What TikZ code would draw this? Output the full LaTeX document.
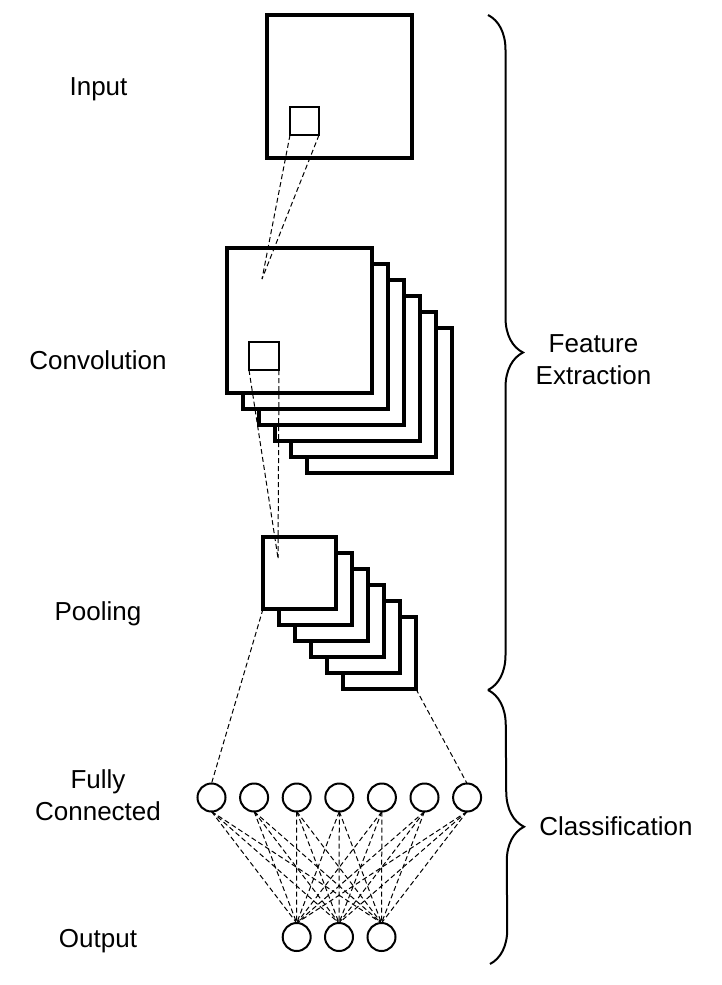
\documentclass[tikz,border=0pt]{standalone}
\usepackage{fontspec}
\setmainfont{Liberation Sans}
\usetikzlibrary{decorations.pathreplacing}
\begin{document}
\begin{tikzpicture}[x=1pt,y=-1pt,
  bigsq/.style={draw, line width=3.2pt, fill=white, rectangle, inner sep=0pt, outer sep=0pt},
  smallsq/.style={draw, line width=1.8pt, rectangle, inner sep=0pt, outer sep=0pt},
  neuron/.style={draw, circle, line width=2pt, minimum size=28pt, inner sep=0pt, outer sep=0pt, fill=white},
  conn/.style={dash pattern=on 5pt off 3pt, line width=1pt},
  lbl/.style={font=\fontsize{26}{32}\selectfont, align=center, inner sep=0pt},
  bracestyle/.style={decorate, decoration={brace, amplitude=35pt}, line width=2pt}]
\useasboundingbox (0,0) rectangle (721,985);

% Input
\node[bigsq, minimum width=145pt, minimum height=143pt] (in) at (339.5,86.5) {};
\node[smallsq, minimum width=29pt, minimum height=28pt] (ins) at (304.5,121) {};

% Convolution stack
\foreach \i in {5,4,3,2,1,0}
  \node[bigsq, minimum width=145pt, minimum height=145pt] (conv\i) at ({299.5+16*\i},{320.5+16*\i}) {};
\node[smallsq, minimum width=30pt, minimum height=28pt] (convs) at (264,356) {};

% Pooling stack
\foreach \i in {5,4,3,2,1,0}
  \node[bigsq, minimum width=73pt, minimum height=72pt] (pool\i) at ({299.5+16*\i},{573+16*\i}) {};

% Fully connected and output
\foreach \i in {1,...,7}
  \node[neuron] (fc\i) at ({211.5+42.6*(\i-1)},797.5) {};
\foreach \j/\x in {1/296.7,2/339,3/381.5}
  \node[neuron] (out\j) at (\x,937) {};

% connectors
\coordinate (p1) at (262,279);
\coordinate (p2) at (278,558);
\draw[conn] (ins.south west) -- (p1);
\draw[conn] (ins.south east) -- (p1);
\draw[conn] (convs.south west) -- (p2);
\draw[conn] (convs.south east) -- (p2);
\draw[conn] (pool0.south west) -- (fc1.north);
\draw[conn] (pool5.south east) -- (fc7.north);
\foreach \i in {1,...,7}
  \foreach \j in {1,2,3}
    \draw[conn] (fc\i.south) -- (out\j.north);

% braces
\coordinate (b1) at (488,15);
\coordinate (b2) at (488,690);
\coordinate (b3) at (490,964);
\draw[bracestyle] (b1) -- (b2);
\draw[bracestyle] (b2) -- (b3);

% labels
\node[lbl, anchor=base] (linput) at (98.5,95) {Input};
\node[lbl, anchor=base] (lconv) at (98,369) {Convolution};
\node[lbl, anchor=base] (lpool) at (98,620) {Pooling};
\node[lbl] (lfc) at (98,795.5) {Fully\\Connected};
\node[lbl, anchor=base] (lout) at (98,947) {Output};
\node[lbl] (lfe) at (593.5,359.5) {Feature\\Extraction};
\node[lbl, anchor=base] (lcls) at (616,835) {Classification};
\end{tikzpicture}
\end{document}
